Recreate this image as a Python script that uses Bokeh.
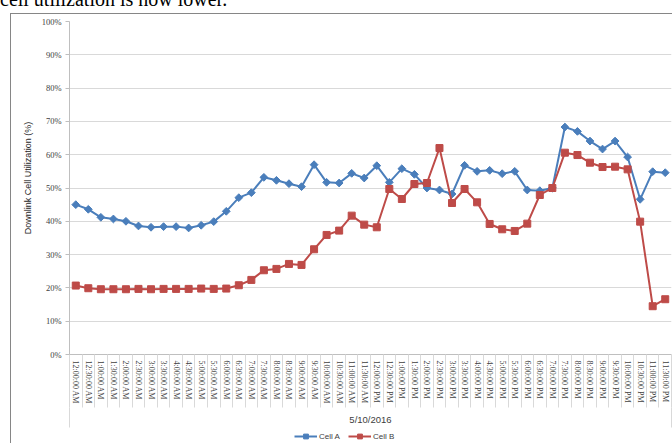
from bokeh.plotting import figure
from bokeh.layouts import column, row
from bokeh.models import (Range1d, FixedTicker, PrintfTickFormatter, Legend,
                          LegendItem, Div, Spacer, LinearAxis)
from bokeh.embed import file_html
from bokeh.resources import INLINE

times = ["12:00:00 AM", "12:30:00 AM", "1:00:00 AM", "1:30:00 AM", "2:00:00 AM", "2:30:00 AM",
         "3:00:00 AM", "3:30:00 AM", "4:00:00 AM", "4:30:00 AM", "5:00:00 AM", "5:30:00 AM",
         "6:00:00 AM", "6:30:00 AM", "7:00:00 AM", "7:30:00 AM", "8:00:00 AM", "8:30:00 AM",
         "9:00:00 AM", "9:30:00 AM", "10:00:00 AM", "10:30:00 AM", "11:00:00 AM", "11:30:00 AM",
         "12:00:00 PM", "12:30:00 PM", "1:00:00 PM", "1:30:00 PM", "2:00:00 PM", "2:30:00 PM",
         "3:00:00 PM", "3:30:00 PM", "4:00:00 PM", "4:30:00 PM", "5:00:00 PM", "5:30:00 PM",
         "6:00:00 PM", "6:30:00 PM", "7:00:00 PM", "7:30:00 PM", "8:00:00 PM", "8:30:00 PM",
         "9:00:00 PM", "9:30:00 PM", "10:00:00 PM", "10:30:00 PM", "11:00:00 PM", "11:30:00 PM"]

cell_a = [45.0, 43.6, 41.2, 40.7, 40.0, 38.6, 38.2, 38.4, 38.4, 38.0, 38.8, 39.9,
          43.0, 47.1, 48.6, 53.2, 52.3, 51.3, 50.4, 57.0, 51.7, 51.5, 54.4, 53.0,
          56.7, 51.7, 55.8, 54.1, 50.0, 49.4, 48.2, 56.8, 55.0, 55.3, 54.3, 55.0,
          49.4, 49.2, 50.0, 68.3, 67.0, 64.1, 61.7, 64.1, 59.3, 46.6, 54.9, 54.6]

cell_b = [20.7, 19.9, 19.6, 19.6, 19.6, 19.7, 19.6, 19.7, 19.7, 19.7, 19.8, 19.7,
          19.8, 20.8, 22.4, 25.3, 25.7, 27.2, 26.9, 31.6, 35.9, 37.2, 41.7, 39.0,
          38.2, 49.7, 46.7, 51.2, 51.5, 62.0, 45.5, 49.7, 45.7, 39.2, 37.6, 37.1,
          39.3, 47.9, 50.0, 60.6, 59.9, 57.6, 56.3, 56.4, 55.6, 39.9, 14.5, 16.6]

y_ticks = [0, 10, 20, 30, 40, 50, 60, 70, 80, 90, 100]
series_names = ["Cell A", "Cell B"]
date_label = "5/10/2016"
y_title = "Downlink Cell Utilization (%)"
caption = "cell utilization is now lower."

BLUE = "#4a7ebb"
RED = "#be4b48"
GRID = "#d9d9d9"
AXIS = "#bfbfbf"
TXT = "#404040"
BORDER = "#868686"

n = len(times)
xs = list(range(n))

# caption line, cut off by the top of the page
cap = Div(text=('<div style="height:13px; width:672px; overflow:hidden;">'
                '<div style="position:relative; top:-11px; left:0px; white-space:nowrap; '
                'font-family:\'Liberation Serif\'; font-size:20px; line-height:20px; '
                'color:#000;">' + caption + '</div></div>'),
          width=672, height=13, margin=0)

p = figure(width=661, height=414, output_backend="svg", toolbar_location=None,
           x_range=Range1d(-0.5, n - 0.5), y_range=Range1d(0, 100),
           min_border_left=58, min_border_right=1, min_border_top=7, min_border_bottom=74)
p.outline_line_color = None
p.background_fill_color = "white"
p.border_fill_color = "white"

# y axis
yt = FixedTicker(ticks=y_ticks)
p.yaxis.ticker = yt
p.yaxis.formatter = PrintfTickFormatter(format="%d%%")
p.yaxis.major_label_text_font = "Liberation Serif"
p.yaxis.major_label_text_font_size = "8.5px"
p.yaxis.major_label_text_color = TXT
p.yaxis.axis_line_color = AXIS
p.yaxis.major_tick_line_color = AXIS
p.yaxis.major_tick_out = 4
p.yaxis.major_tick_in = 0
p.yaxis.minor_tick_line_color = None
p.yaxis.major_label_standoff = 4
# leading no-break spaces lift the centred title a little, as in the original
p.yaxis.axis_label = "\u00a0" * 8 + y_title
p.yaxis.axis_label_text_font = "Liberation Sans"
p.yaxis.axis_label_text_font_size = "9px"
p.yaxis.axis_label_text_font_style = "normal"
p.yaxis.axis_label_text_color = "#262626"
p.yaxis.axis_label_standoff = 6
p.ygrid.ticker = yt
p.ygrid.grid_line_color = GRID

# x axis: category labels between separator lines
xax = p.xaxis[0]
xax.ticker = FixedTicker(ticks=xs, minor_ticks=[i - 0.5 for i in range(n + 1)])
xax.major_label_overrides = {i: t for i, t in enumerate(times)}
xax.major_label_orientation = "vertical"
xax.major_label_text_font = "Liberation Serif"
xax.major_label_text_font_size = "8px"
xax.major_label_text_color = TXT
xax.major_tick_out = 0
xax.major_tick_in = 0
xax.major_tick_line_color = None
xax.minor_tick_out = 53
xax.minor_tick_in = 0
xax.minor_tick_line_color = GRID
xax.axis_line_color = AXIS
xax.major_label_standoff = -47
xax.axis_label = date_label
xax.axis_label_text_font = "Liberation Sans"
xax.axis_label_text_font_size = "9.5px"
xax.axis_label_text_font_style = "normal"
xax.axis_label_text_color = TXT
xax.axis_label_standoff = 7
p.xgrid.visible = False

# outer separators of the second (date) category level
edges = [-0.5, n - 0.5]
outer = LinearAxis(ticker=FixedTicker(ticks=edges, minor_ticks=[]),
                   major_label_overrides={e: "" for e in edges},
                   major_tick_in=20, major_tick_out=0, major_tick_line_color=GRID,
                   axis_line_color=None, minor_tick_line_color=None,
                   major_label_standoff=0, major_label_text_font_size="1px")
p.add_layout(outer, "below")

# series
p.line(xs, cell_a, line_color=BLUE, line_width=2)
p.scatter(xs, cell_a, marker="square", angle=0.785398, size=5.5,
          fill_color=BLUE, line_color=BLUE)
p.line(xs, cell_b, line_color=RED, line_width=2)
p.scatter(xs, cell_b, marker="square", size=7, fill_color=RED, line_color=RED)

# legend strip under the axis (its own renderers fall outside its 0..1 ranges)
pl = figure(width=661, height=15, output_backend="svg", toolbar_location=None,
            x_range=Range1d(0, 1), y_range=Range1d(0, 1),
            x_axis_type=None, y_axis_type=None,
            min_border_left=58, min_border_right=1, min_border_top=0, min_border_bottom=0)
pl.outline_line_color = None
pl.border_fill_color = "white"
pl.background_fill_color = "white"
ka = pl.line(xs, cell_a, line_color=BLUE, line_width=2)
kas = pl.scatter(xs, cell_a, marker="square", angle=0.785398, size=5.5,
                 fill_color=BLUE, line_color=BLUE)
kb = pl.line(xs, cell_b, line_color=RED, line_width=2)
kbs = pl.scatter(xs, cell_b, marker="square", size=7, fill_color=RED, line_color=RED)
legend = Legend(items=[LegendItem(label=series_names[0], renderers=[ka, kas]),
                       LegendItem(label=series_names[1], renderers=[kb, kbs])],
                orientation="horizontal", location=(225, 1), padding=0, margin=0,
                spacing=8, glyph_width=23, glyph_height=12, label_height=12,
                label_standoff=2, border_line_color=None, background_fill_alpha=0,
                label_text_font="Liberation Sans", label_text_font_size="8px",
                label_text_color=TXT)
pl.add_layout(legend)

left_line = Spacer(width=1, height=430, styles={"background-color": BORDER})
top_line = Spacer(width=661, height=1, styles={"background-color": BORDER})

layout = column(cap, row(Spacer(width=10, height=430), left_line,
                         column(top_line, p, pl)))

open("out.html", "w").write(file_html(layout, INLINE))
